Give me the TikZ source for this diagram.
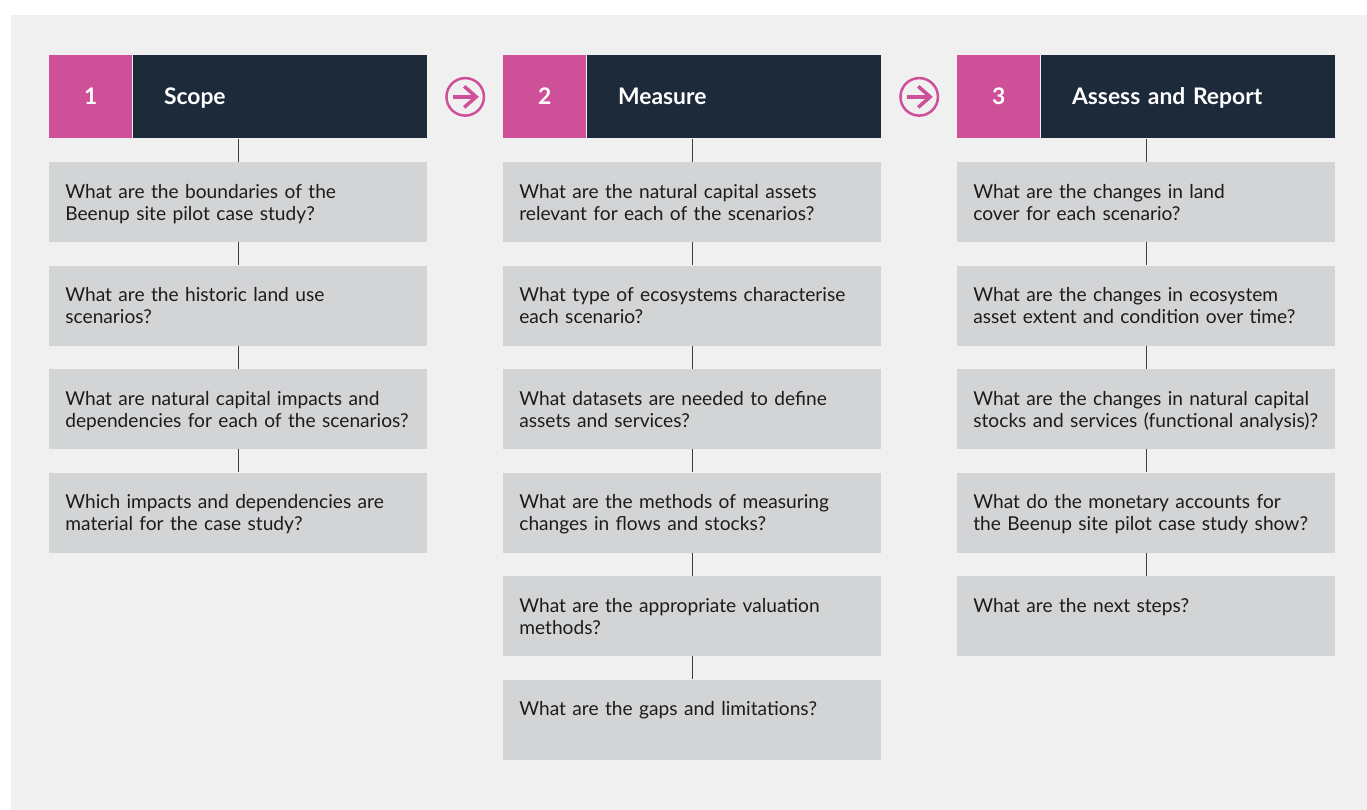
\documentclass[tikz,border=0pt]{standalone}
\usepackage{fontspec}
\setmainfont{Lato}
\usetikzlibrary{arrows.meta,positioning,calc}

\definecolor{stagepink}{HTML}{CE5099}
\definecolor{stagenavy}{HTML}{1C2A3A}
\definecolor{qgrey}{HTML}{D3D4D6}
\definecolor{bggrey}{HTML}{F0F0F0}
\definecolor{linkgrey}{HTML}{3E3E3E}
\definecolor{qtext}{HTML}{1C1C1C}

\begin{document}
\begin{tikzpicture}[
  num/.style={fill=stagepink, text=white, minimum width=1.66cm, inner sep=0pt,
    text height=0.98cm, text depth=0.68cm, anchor=north west,
    font=\bfseries\fontsize{13}{15}\selectfont},
  head/.style={fill=stagenavy, text=white, text width=4.64cm, inner xsep=0.62cm, inner ysep=0pt,
    text height=0.98cm, text depth=0.68cm, align=left,
    font=\bfseries\fontsize{13}{15}\selectfont},
  question/.style={fill=qgrey, text=qtext, text width=7.56cm, inner xsep=0pt, inner ysep=0pt,
    text height=0.72cm, text depth=0.88cm, align=left, font=\fontsize{10.9}{12.6}\selectfont,
    execute at begin node={\leftskip=0.32cm}},
  go/.style={circle, draw=stagepink, line width=0.05cm, minimum size=0.75cm, inner sep=0pt},
  icon/.style={stagepink, line width=0.07cm},
  link/.style={linkgrey, line width=0.8pt},
  node distance=0.456cm
]

\useasboundingbox (0,0) rectangle (27.34,-16.2);
\fill[bggrey] (0.22,-0.30) rectangle (27.34,-16.2);

\node[num] (num1) at (0.98,-1.10) {1};
\node[head, right=0cm of num1] (head1) {Scope};
\node[num] (num2) at (10.06,-1.10) {2};
\node[head, right=0cm of num2] (head2) {Measure};
\node[num] (num3) at (19.14,-1.10) {3};
\node[head, right=0cm of num3] (head3) {Assess and Report};

\node[go] (go1) at ($(head1.east)!0.5!(num2.west)$) {};
\draw[icon] ([xshift=-0.25cm]go1.center) -- ([xshift=0.2cm]go1.center);
\draw[icon, line join=miter] ([xshift=-0.02cm, yshift=0.21cm]go1.center) -- ([xshift=0.22cm]go1.center)
  -- ([xshift=-0.02cm, yshift=-0.21cm]go1.center);

\node[go] (go2) at ($(head2.east)!0.5!(num3.west)$) {};
\draw[icon] ([xshift=-0.25cm]go2.center) -- ([xshift=0.2cm]go2.center);
\draw[icon, line join=miter] ([xshift=-0.02cm, yshift=0.21cm]go2.center) -- ([xshift=0.22cm]go2.center)
  -- ([xshift=-0.02cm, yshift=-0.21cm]go2.center);

\node[question, below right=0.46cm and 0cm of num1.south west] (q11)
  {What are the boundaries of the\\Beenup site pilot case study?};
\node[question, below=of q11] (q12) {What are the historic land use\\scenarios?};
\node[question, below=of q12] (q13) {What are natural capital impacts and\\dependencies for each of the scenarios?};
\node[question, below=of q13] (q14) {Which impacts and dependencies are\\material for the case study?};

\node[question, below right=0.46cm and 0cm of num2.south west] (q21)
  {What are the natural capital assets\\relevant for each of the scenarios?};
\node[question, below=of q21] (q22) {What type of ecosystems characterise\\each scenario?};
\node[question, below=of q22] (q23) {What datasets are needed to define\\assets and services?};
\node[question, below=of q23] (q24) {What are the methods of measuring\\changes in flows and stocks?};
\node[question, below=of q24] (q25) {What are the appropriate valuation\\methods?};
\node[question, below=of q25] (q26) {What are the gaps and limitations?};

\node[question, below right=0.46cm and 0cm of num3.south west] (q31)
  {What are the changes in land\\cover for each scenario?};
\node[question, below=of q31] (q32) {What are the changes in ecosystem\\asset extent and condition over time?};
\node[question, below=of q32] (q33) {What are the changes in natural capital\\stocks and services (functional analysis)?};
\node[question, below=of q33] (q34) {What do the monetary accounts for\\the Beenup site pilot case study show?};
\node[question, below=of q34] (q35) {What are the next steps?};

\draw[link] (q11.north |- head1.south) -- (q11);
\draw[link] (q11) -- (q12);
\draw[link] (q12) -- (q13);
\draw[link] (q13) -- (q14);

\draw[link] (q21.north |- head2.south) -- (q21);
\draw[link] (q21) -- (q22);
\draw[link] (q22) -- (q23);
\draw[link] (q23) -- (q24);
\draw[link] (q24) -- (q25);
\draw[link] (q25) -- (q26);

\draw[link] (q31.north |- head3.south) -- (q31);
\draw[link] (q31) -- (q32);
\draw[link] (q32) -- (q33);
\draw[link] (q33) -- (q34);
\draw[link] (q34) -- (q35);

\end{tikzpicture}
\end{document}
